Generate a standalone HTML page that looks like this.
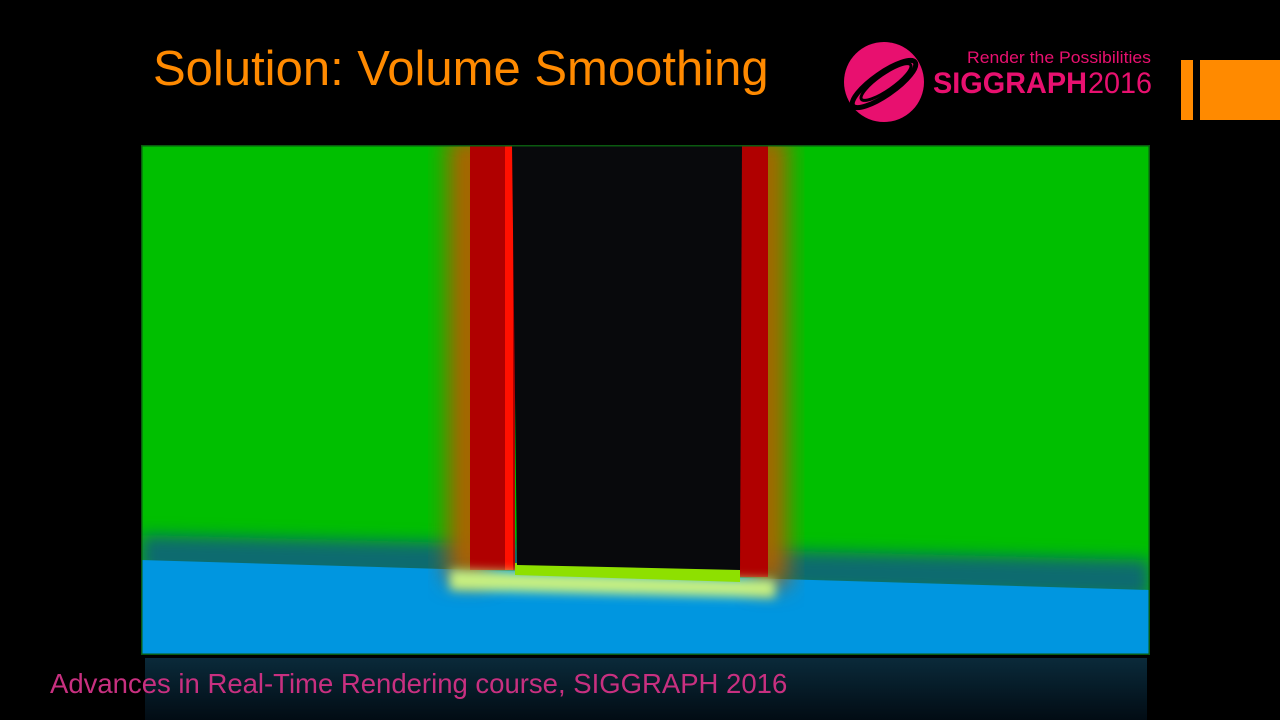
<!DOCTYPE html>
<html><head><meta charset="utf-8"><style>
html,body{margin:0;padding:0;background:#000;width:1280px;height:720px;overflow:hidden}
.t{position:absolute;font-family:"Liberation Sans",sans-serif;white-space:nowrap}
</style></head><body>
<div style="position:relative;width:1280px;height:720px;background:#000">
<div class="t" style="left:153px;top:41px;font-size:49px;color:#ff8a00;">Solution: Volume Smoothing</div>
<svg style="position:absolute;left:840px;top:40px" width="320" height="85">
<circle cx="44" cy="42" r="40" fill="#e8106f"/>
<ellipse cx="44" cy="44" rx="38" ry="11" transform="rotate(-35 44 44)" fill="none" stroke="#000" stroke-width="5"/>
<ellipse cx="46" cy="42" rx="30" ry="8" transform="rotate(-35 46 42)" fill="none" stroke="#000" stroke-width="3"/>
<text x="127" y="23" font-family="Liberation Sans,sans-serif" font-size="17" fill="#e8106f" textLength="184" lengthAdjust="spacingAndGlyphs">Render the Possibilities</text>
<text x="93" y="53" font-family="Liberation Sans,sans-serif" font-size="30" font-weight="bold" fill="#e8106f" textLength="154" lengthAdjust="spacingAndGlyphs">SIGGRAPH</text>
<text x="248" y="53" font-family="Liberation Sans,sans-serif" font-size="30" fill="#e8106f" textLength="64" lengthAdjust="spacingAndGlyphs">2016</text>
</svg>
<div style="position:absolute;left:1181px;top:60px;width:12px;height:60px;background:#ff8a00"></div>
<div style="position:absolute;left:1200px;top:60px;width:80px;height:60px;background:#ff8a00"></div>
<svg style="position:absolute;left:0;top:0" width="1280" height="720">
<defs>
<filter id="b8" x="-50%" y="-50%" width="200%" height="200%"><feGaussianBlur stdDeviation="8"/></filter>
<filter id="b12" x="-50%" y="-50%" width="200%" height="200%"><feGaussianBlur stdDeviation="12"/></filter>
<filter id="b4" x="-50%" y="-50%" width="200%" height="200%"><feGaussianBlur stdDeviation="5"/></filter>
<linearGradient id="refl" x1="0" y1="0" x2="0" y2="1"><stop offset="0" stop-color="#0a2a3a"/><stop offset="1" stop-color="#020c14"/></linearGradient>
<clipPath id="cp"><rect x="141" y="145" width="1009" height="510"/></clipPath>
</defs>
<rect x="145" y="658" width="1002" height="62" fill="url(#refl)"/>
<g clip-path="url(#cp)">
<rect x="141" y="145" width="1009" height="510" fill="#00bf00"/>
<polygon points="141,535 1150,560 1150,600 141,575" fill="#0a6a70" filter="url(#b8)"/>
<polygon points="141,560 1150,590 1150,655 141,655" fill="#0096e0"/>
<rect x="448" y="135" width="40" height="445" fill="#b06000" filter="url(#b12)"/>
<rect x="752" y="135" width="35" height="450" fill="#b06000" filter="url(#b12)"/>
<rect x="470" y="145" width="45" height="425" fill="#b00000"/>
<rect x="738" y="145" width="30" height="432" fill="#b00000"/>
<rect x="505" y="145" width="8" height="425" fill="#ff1000"/>
<polygon points="450,570 775,580 775,598 450,590" fill="#c8f080" filter="url(#b4)"/>
<polygon points="515,563 740,568 740,582 515,575" fill="#8ee000"/>
<polygon points="512,145 742,145 740,570 517,565" fill="#08090c"/>
<rect x="141" y="145" width="1009" height="510" fill="none" stroke="#0a5a10" stroke-width="3"/>
</g>
</svg>
<div class="t" style="left:50px;top:668px;font-size:27.5px;letter-spacing:0px;color:#c83080">Advances in Real-Time Rendering course, SIGGRAPH 2016</div>
</div>
</body></html>
